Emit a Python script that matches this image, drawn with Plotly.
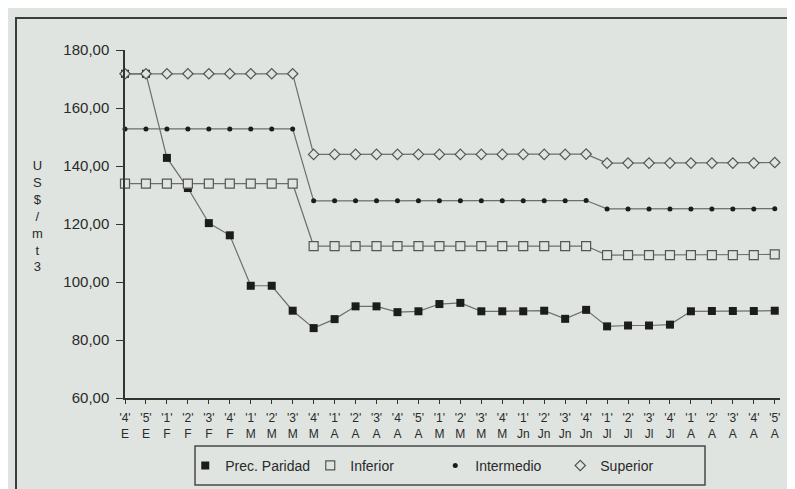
import plotly.graph_objects as go

# ---- data ----
weeks = ["4", "5", "1", "2", "3", "4", "1", "2", "3", "4", "1", "2", "3", "4", "5",
         "1", "2", "3", "4", "1", "2", "3", "4", "1", "2", "3", "4", "1", "2", "3", "4", "5"]
months = ["E", "E", "F", "F", "F", "F", "M", "M", "M", "M", "A", "A", "A", "A", "A",
          "M", "M", "M", "M", "Jn", "Jn", "Jn", "Jn", "Jl", "Jl", "Jl", "Jl", "A", "A", "A", "A", "A"]

prec_paridad = [171.8, 171.8, 142.8, 132.4, 120.3, 116.1, 98.7, 98.7, 90.1, 84.1, 87.2,
                91.6, 91.6, 89.6, 89.9, 92.4, 92.8, 89.9, 89.9, 89.9, 90.1, 87.3, 90.4,
                84.7, 85.0, 85.0, 85.3, 89.9, 90.0, 90.0, 90.0, 90.1]
inferior = [133.9, 133.9, 133.9, 133.9, 133.9, 133.9, 133.9, 133.9, 133.9,
            112.4, 112.4, 112.4, 112.4, 112.4, 112.4, 112.4, 112.4, 112.4, 112.4, 112.4, 112.4, 112.4, 112.4,
            109.3, 109.3, 109.3, 109.3, 109.3, 109.3, 109.3, 109.3, 109.5]
intermedio = [152.8, 152.8, 152.8, 152.8, 152.8, 152.8, 152.8, 152.8, 152.8,
              128.0, 128.0, 128.0, 128.0, 128.0, 128.0, 128.0, 128.0, 128.0, 128.0, 128.0, 128.0, 128.0, 128.1,
              125.2, 125.2, 125.2, 125.2, 125.2, 125.2, 125.2, 125.2, 125.3]
superior = [171.8, 171.8, 171.8, 171.8, 171.8, 171.8, 171.8, 171.8, 171.8,
            144.0, 144.0, 144.0, 144.0, 144.0, 144.0, 144.0, 144.0, 144.0, 144.0, 144.0, 144.0, 144.0, 144.1,
            141.0, 141.0, 141.0, 141.0, 141.0, 141.0, 141.0, 141.0, 141.2]

y_ticks = [60, 80, 100, 120, 140, 160, 180]
y_title = ["U", "S", "$", "/", "m", "t", "3"]

x = list(range(len(weeks)))
ticktext = [f"'{w}'<br>{m}" for w, m in zip(weeks, months)]

BG = "#dfe4e0"
INK = "#1c1c1c"
LINE = "#6e6e6e"
AX = "#333333"
TXT = "#2a2a2a"
FONT = "Liberation Sans, Arial, sans-serif"

fig = go.Figure()

series = [
    ("Prec. Paridad", prec_paridad, dict(symbol="square", size=8, color=INK, line=dict(width=0))),
    ("Inferior", inferior, dict(symbol="square", size=9, color=BG, line=dict(width=1.2, color="#555"))),
    ("Intermedio", intermedio, dict(symbol="circle", size=5, color=INK, line=dict(width=0))),
    ("Superior", superior, dict(symbol="diamond", size=8, color=BG, line=dict(width=1.2, color="#555"))),
]

for name, vals, mk in series:
    fig.add_trace(go.Scatter(x=x, y=vals, mode="lines+markers", name=name,
                             line=dict(color=LINE, width=1.2), marker=mk,
                             showlegend=False, cliponaxis=False))

# legend-only entries (markers without lines)
for name, vals, mk in series:
    fig.add_trace(go.Scatter(x=[None], y=[None], mode="markers", name=name,
                             marker=mk, showlegend=True))

fig.update_layout(
    width=795, height=489,
    margin=dict(l=117, r=23, t=42, b=99),
    paper_bgcolor=BG, plot_bgcolor=BG,
    separators=",.",
    font=dict(family=FONT, color=TXT, size=13),
    showlegend=True,
    legend=dict(orientation="h", x=0.092, xanchor="left", y=-0.195, yanchor="middle",
                bgcolor="rgba(0,0,0,0)", borderwidth=0,
                font=dict(size=14, color=TXT),
                entrywidth=80, entrywidthmode="pixels", itemwidth=30),
    xaxis=dict(range=[0, 31.25], tickvals=x, ticktext=ticktext, showgrid=False,
               zeroline=False, showline=True, linecolor=AX, linewidth=1.5,
               ticks="outside", ticklen=4, tickwidth=1, tickcolor=AX,
               ticklabelstandoff=4, tickangle=0,
               tickfont=dict(size=12, color=TXT)),
    xaxis2=dict(range=[0, 31.25], tickvals=x, overlaying="x", anchor="y", side="bottom",
                showticklabels=False, showgrid=False, zeroline=False, showline=False,
                ticks="inside", ticklen=6, tickwidth=1, tickcolor=AX),
    yaxis=dict(range=[60, 180], tickvals=y_ticks, tickformat=".2f", showgrid=False,
               zeroline=False, showline=True, linecolor=AX, linewidth=1.5,
               ticks="outside", ticklen=7, tickwidth=1, tickcolor=AX,
               ticklabelstandoff=4,
               tickfont=dict(size=15, color=TXT)),
    yaxis2=dict(range=[60, 180], tickvals=y_ticks, overlaying="y", anchor="x", side="left",
                showticklabels=False, showgrid=False, zeroline=False, showline=False,
                ticks="inside", ticklen=5, tickwidth=1, tickcolor=AX),
)

# legend box
fig.add_shape(type="rect", xref="paper", yref="paper",
              x0=0.1069, x1=0.8855, y0=-0.25, y1=-0.138,
              line=dict(color="#4a4a4a", width=1.5))
# outer frame
fig.add_shape(type="rect", xref="paper", yref="paper",
              x0=-0.1664, x1=1.06, y0=-0.2759, y1=1.092,
              line=dict(color="#3c3c3c", width=2))

fig.add_annotation(text="<br>".join(y_title), xref="paper", yref="paper",
                   x=-0.134, y=0.523, showarrow=False, xanchor="center", yanchor="middle",
                   font=dict(size=13, color=TXT))

fig.write_html("out.html")
